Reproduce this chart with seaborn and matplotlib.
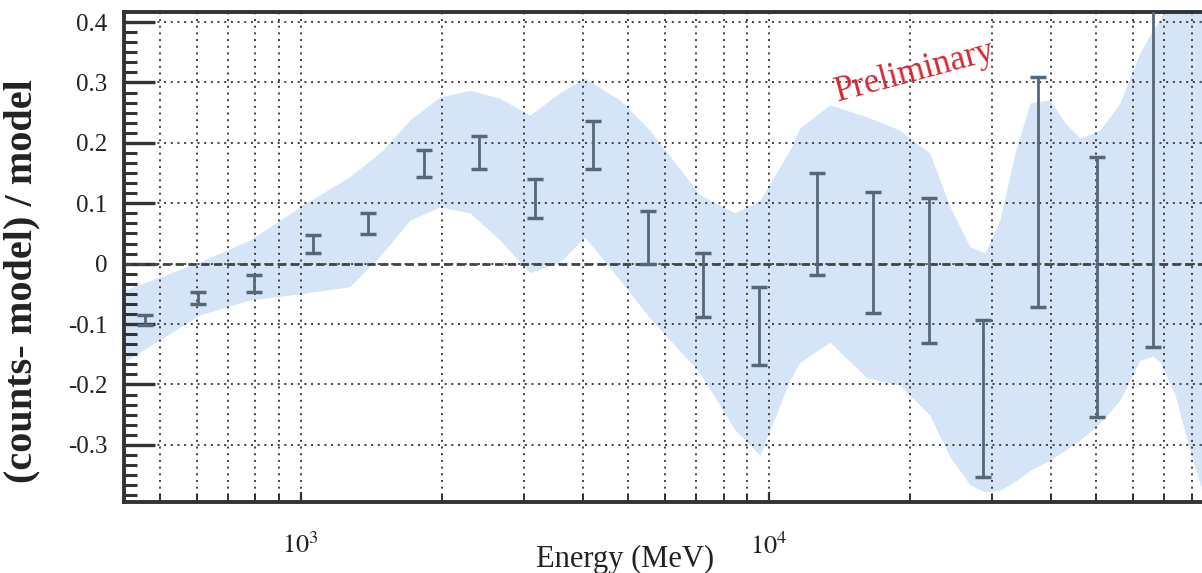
import numpy as np
import pandas as pd
import seaborn as sns
import matplotlib.pyplot as plt
from matplotlib.ticker import LogLocator, AutoMinorLocator, FixedLocator, FixedFormatter, NullFormatter

# Residual points: energy (MeV) and lower / upper end of each error bar
energy = [464, 602, 794, 1061, 1390, 1832, 2401, 3162, 4207, 5514,
          7228, 9520, 12665, 16684, 21975, 28660, 37570, 50220, 66150]
res_lo = [-0.101, -0.067, -0.047, 0.018, 0.049, 0.144, 0.157, 0.076, 0.157, 0.000,
          -0.088, -0.168, -0.019, -0.082, -0.131, -0.353, -0.072, -0.254, -0.138]
res_hi = [-0.085, -0.047, -0.019, 0.048, 0.084, 0.188, 0.211, 0.140, 0.236, 0.087,
          0.018, -0.039, 0.150, 0.119, 0.109, -0.093, 0.309, 0.177, 0.450]

# Systematic band (light blue)
band_energy = [419, 500, 608, 778, 995, 1273, 1497, 1710, 1982, 2297,
               2662, 3086, 3576, 4045, 4804, 5568, 7122, 8460, 9568, 11088,
               11648, 13500, 16200, 19050, 22080, 24370, 26890, 28940, 31160, 33550,
               36130, 39850, 42910, 46190, 50960, 56230, 62030, 66150, 68470, 73720,
               79370, 84200]
band_upper = [-0.044, -0.022, 0.003, 0.039, 0.094, 0.144, 0.188, 0.238, 0.276, 0.287,
              0.274, 0.246, 0.283, 0.307, 0.271, 0.221, 0.114, 0.084, 0.105, 0.188,
              0.225, 0.263, 0.243, 0.221, 0.183, 0.094, 0.028, 0.018, 0.072, 0.183,
              0.266, 0.271, 0.233, 0.208, 0.221, 0.266, 0.349, 0.387, 0.403, 0.453,
              0.470, 0.470]
band_lower = [-0.163, -0.126, -0.085, -0.060, -0.050, -0.038, 0.018, 0.072, 0.094, 0.084,
              0.039, -0.015, 0.003, 0.044, -0.027, -0.090, -0.181, -0.275, -0.317, -0.193,
              -0.163, -0.130, -0.189, -0.201, -0.251, -0.320, -0.366, -0.378, -0.375, -0.361,
              -0.342, -0.325, -0.309, -0.292, -0.264, -0.226, -0.160, -0.153, -0.163, -0.217,
              -0.309, -0.375]

ytick_values = [-0.3, -0.2, -0.1, 0.0, 0.1, 0.2, 0.3, 0.4]
ytick_labels = ['-0.3', '-0.2', '-0.1', '0', '0.1', '0.2', '0.3', '0.4']
xtick_values = [1e3, 1e4]
xtick_labels = ['$10^3$', '$10^4$']

df = pd.DataFrame({'energy': energy, 'lo': res_lo, 'hi': res_hi})
df['mid'] = (df['lo'] + df['hi']) / 2

sns.set_theme(style="white")
plt.rcParams['font.family'] = ['Liberation Serif', 'DejaVu Serif']
plt.rcParams['mathtext.fontset'] = 'stix'

fig = plt.figure(figsize=(12.02, 5.73), dpi=100)
ax = fig.add_axes([124 / 1202, 1 - 502 / 573, 1078 / 1202, 490 / 573])

# band
ax.fill_between(band_energy, band_lower, band_upper, color='#d5e5f7', lw=0, zorder=1)

# zero line
ax.axhline(0, color='#444444', lw=2, ls=(0, (3, 1.6)), zorder=2)

# error bars
ax.errorbar(df['energy'], df['mid'], yerr=[df['mid'] - df['lo'], df['hi'] - df['mid']],
            fmt='none', ecolor='#56677a', elinewidth=2, capsize=5.5, capthick=2.5, zorder=3)

ax.set_xscale('log')
ax.set_xlim(419, 84200)
ax.set_ylim(-0.3945, 0.4166)

ax.xaxis.set_major_locator(FixedLocator(xtick_values))
ax.xaxis.set_major_formatter(FixedFormatter(xtick_labels))
ax.xaxis.set_minor_locator(LogLocator(base=10, subs=np.arange(2, 10)))
ax.xaxis.set_minor_formatter(NullFormatter())
ax.yaxis.set_major_locator(FixedLocator(ytick_values))
ax.yaxis.set_major_formatter(FixedFormatter(ytick_labels))
ax.yaxis.set_minor_locator(AutoMinorLocator(6))

# dotted grid on top of the band
ax.set_axisbelow('line')
ax.grid(which='both', axis='x', color='#333333', lw=1.3, ls=(0, (1.1, 2.6)))
ax.grid(which='major', axis='y', color='#333333', lw=1.3, ls=(0, (1.1, 2.6)))

for s in ['left', 'bottom', 'top']:
    ax.spines[s].set_linewidth(2.8)
    ax.spines[s].set_color('#333333')
ax.spines['right'].set_visible(False)

ax.tick_params(axis='y', which='major', direction='in', left=True, right=False,
               length=22, width=2.4, color='#333333', pad=12, labelsize=18, labelcolor='#222222')
ax.tick_params(axis='y', which='minor', direction='in', left=True, right=False,
               length=9.5, width=2.2, color='#333333')
ax.tick_params(axis='x', which='major', direction='in', bottom=True, top=False,
               length=7, width=1.6, color='#333333', pad=22, labelsize=19, labelcolor='#222222')
ax.tick_params(axis='x', which='minor', direction='in', bottom=True, top=False,
               length=6, width=1.4, color='#333333')

ax.set_xlabel('Energy (MeV)', fontsize=22, color='#222222')
ax.xaxis.set_label_coords(0.465, -0.088)
ax.set_ylabel('(counts- model) / model', fontsize=29, fontweight='bold', color='#222222')
ax.yaxis.set_label_coords(-0.078, 0.45)

ax.text(20500, 0.318, 'Preliminary', rotation=15, color='#d42a35', fontsize=25,
        ha='center', va='center', rotation_mode='anchor')

fig.savefig('out.png', dpi=100)
